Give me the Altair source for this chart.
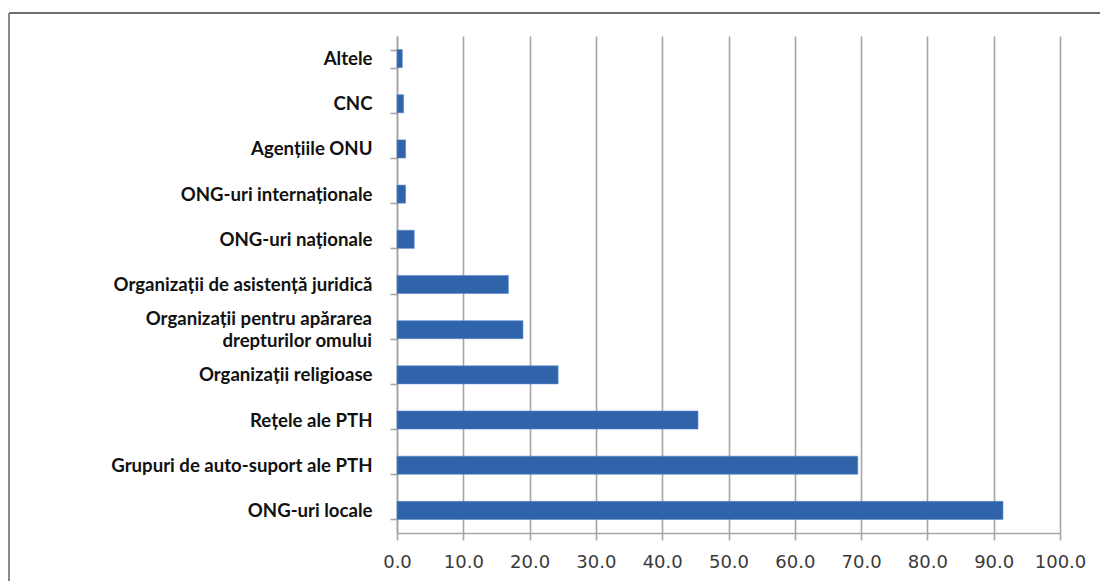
import altair as alt
import pandas as pd

# Categories listed top to bottom; "|" marks a line break in the label
categories = [
    "Altele",
    "CNC",
    "Agențiile ONU",
    "ONG-uri internaționale",
    "ONG-uri naționale",
    "Organizații de asistență juridică",
    "Organizații pentru apărarea|drepturilor omului",
    "Organizații religioase",
    "Rețele ale PTH",
    "Grupuri de auto-suport ale PTH",
    "ONG-uri locale",
]
values = [0.8, 1.0, 1.3, 1.3, 2.6, 16.8, 19.0, 24.3, 45.4, 69.5, 91.4]

x_ticks = [0, 10, 20, 30, 40, 50, 60, 70, 80, 90, 100]

df = pd.DataFrame({"categorie": categories, "valoare": values})

PLOT_W = 663
PLOT_H = 497
PAD_L, PAD_T, PAD_R, PAD_B = 397, 36, 40, 48

grid_col = "#a6a6a6"
label_font = "Lato"
label_size = 18.6

y_enc = alt.Y(
    "categorie:N",
    sort=categories,
    scale=alt.Scale(paddingInner=0.6, paddingOuter=0.3),
    axis=alt.Axis(
        title=None,
        domainColor=grid_col,
        domainWidth=1.6,
        tickColor=grid_col,
        tickWidth=1.6,
        tickSize=7,
        tickBand="extent",
        labelFont=label_font,
        labelFontWeight="bold",
        labelFontSize=label_size,
        labelColor="#111111",
        labelPadding=18,
        labelLimit=400,
        # two-line labels are drawn by the text layer below
        labelExpr="indexof(datum.label, '|') >= 0 ? '' : datum.label",
    ),
)

bars = alt.Chart(df).mark_bar(
    color="#2f64aa", stroke="#5b8ad0", strokeWidth=0.6
).encode(
    x=alt.X(
        "valoare:Q",
        scale=alt.Scale(domain=[0, 100], nice=False, zero=True),
        axis=alt.Axis(
            values=x_ticks,
            format=".1f",
            title=None,
            grid=True,
            gridColor=grid_col,
            gridWidth=1.6,
            domainColor=grid_col,
            domainWidth=1.6,
            tickColor=grid_col,
            tickWidth=1.6,
            tickSize=7,
            labelFont="DejaVu Sans",
            labelFontSize=18,
            labelColor="#3a3a3a",
            labelPadding=13,
            labelFlush=False,
        ),
    ),
    y=y_enc,
)

# Two-line category label, centred on its bar
wrapped = alt.Chart(df).transform_filter(
    "indexof(datum.categorie, '|') >= 0"
).mark_text(
    align="right",
    baseline="middle",
    lineBreak="|",
    lineHeight=22,
    dy=-11,
    font=label_font,
    fontWeight="bold",
    fontSize=label_size,
    color="#111111",
).encode(
    x=alt.value(-25),
    y=alt.Y("categorie:N", sort=categories),
    text="categorie:N",
)

# Outer frame of the chart: top and left edges
frame_top = alt.Chart(df).mark_rule(color="#6e6e6e", strokeWidth=2).encode(
    x=alt.value(9 - PAD_L), x2=alt.value(1100 - PAD_L), y=alt.value(13 - PAD_T)
)
frame_left = alt.Chart(df).mark_rule(color="#8a8a8a", strokeWidth=2).encode(
    x=alt.value(9 - PAD_L), y=alt.value(13 - PAD_T), y2=alt.value(581 - PAD_T)
)

chart = (
    alt.layer(bars, wrapped, frame_top, frame_left)
    .properties(
        width=PLOT_W,
        height=PLOT_H,
        padding={"left": PAD_L, "top": PAD_T, "right": PAD_R, "bottom": PAD_B},
        autosize=alt.AutoSizeParams(type="none"),
        background="white",
    )
    .configure_view(stroke=None)
)

chart.save("out.html", embed_options={"renderer": "svg", "actions": False})
